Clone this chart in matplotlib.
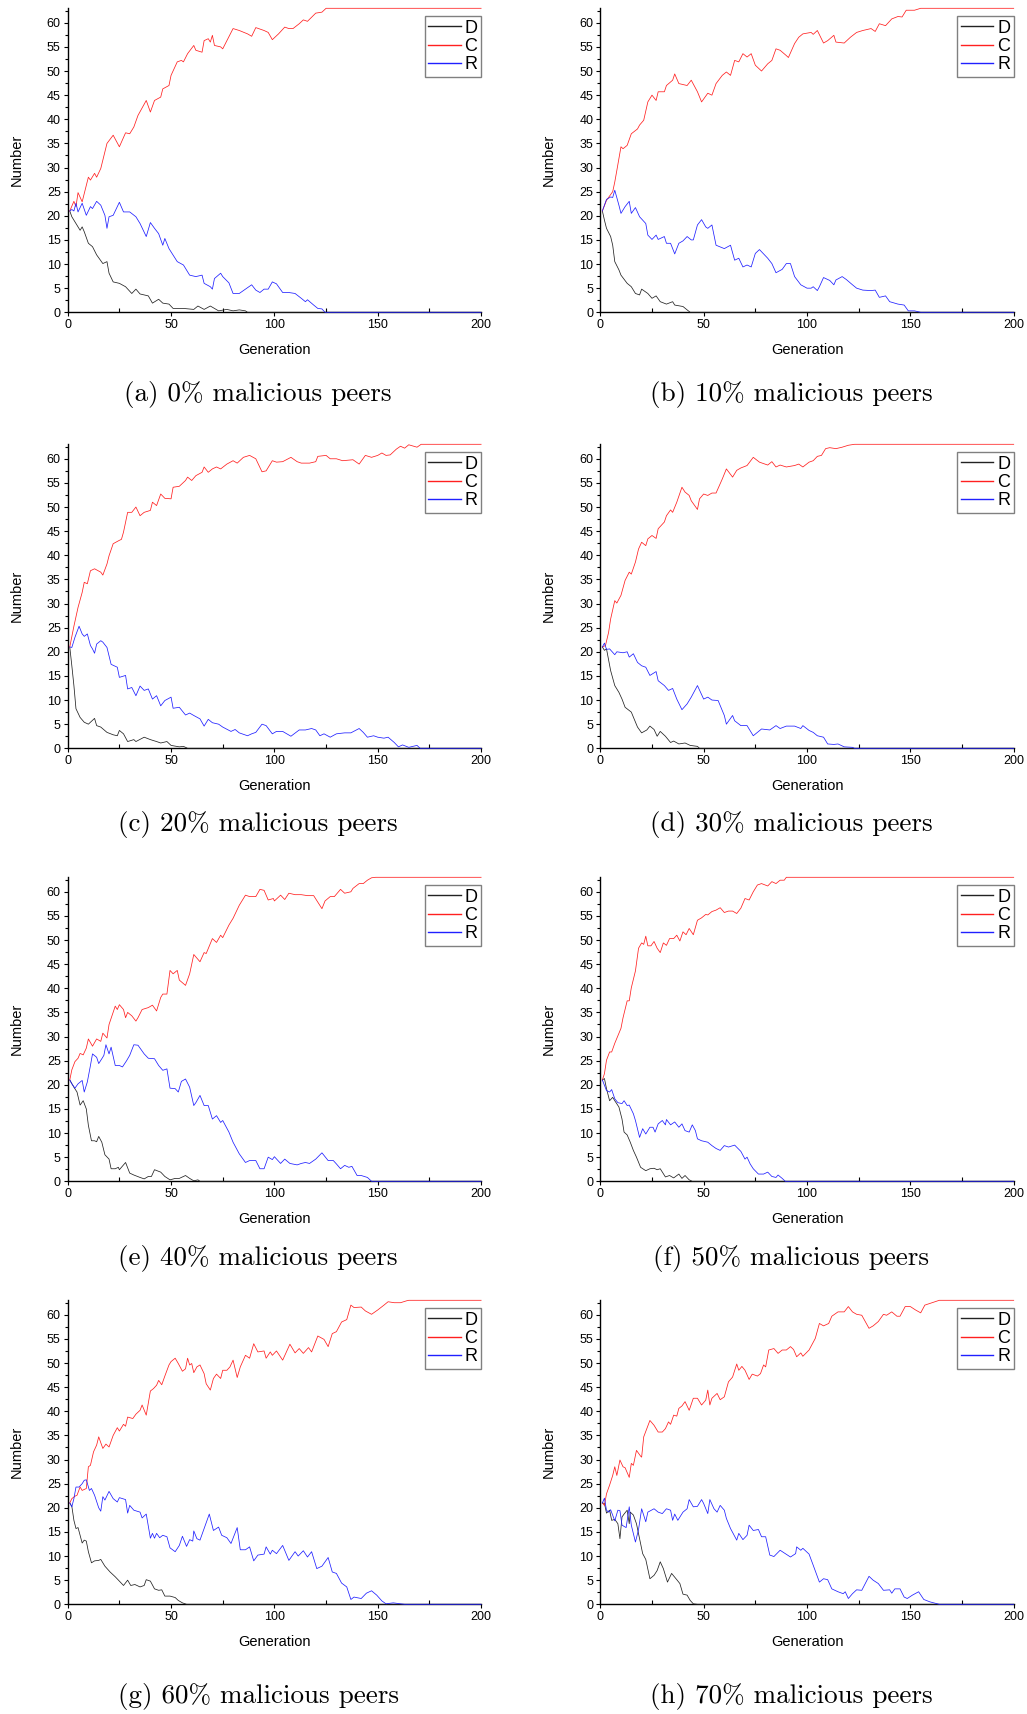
import matplotlib
matplotlib.use("Agg")
import matplotlib.pyplot as plt
from matplotlib.ticker import MultipleLocator
import numpy as np

plt.rcParams["font.family"] = ["Liberation Sans", "DejaVu Sans"]

# (generation, number), one list per strategy and panel
a_D = [(1,21),(2,19.8),(4,18.4),(6,17),(7,17.7),(8,16.7),(10,14.3),(12,13.6),(14,11.9),(17,10.1),(19,10.5),(20,8.1),
       (22,6.3),(25,6),(28,5.3),(31,3.9),(33,4.8),(35,3.8),(39,3.4),(41,1.9),(44,2.7),(46,1.9),(49,1.7),(51,0.8),
       (56,0.8),(61,0.6),(63,1.3),(66,0.6),(69,1.3),(73,0.3),(77,0.6),(80,0.3),(83,0.5),(86,0.3),(87,0),(200,0)]
a_C = [(1,21),(3,23),(4,21.9),(5,24.8),(7,22.9),(10,28),(11,27.4),(13,28.8),(14,28),(16,29.8),(19,35),(22,36.7),
       (25,34.3),(28,37.2),(30,37),(32,38.4),(34,40.8),(38,43.9),(40,41.5),(42,43.9),(45,44.6),(46,46.3),(49,47),
       (50,49.1),(53,51.9),(55,52.2),(56,51.9),(58,53.6),(61,55.3),(62,54.3),(65,53.9),(66,56.3),(68,56.7),(69,56),
       (70,57.4),(71,55.3),(74,55),(75,54.6),(80,58.8),(83,58.4),(87,57.7),(89,57.2),(91,59),(95,58.4),(97,58),
       (99,56.5),(100,56.9),(102,57.7),(105,59.1),(107,58.8),(109,58.8),(112,59.8),(114,60.6),(116,60.3),(120,62),
       (123,62.2),(125,63),(200,63)]
a_R = [(1,21),(2,21.3),(3,21),(4,22.6),(5,20.8),(7,22.6),(9,20.1),(11,21.9),(12,21.5),(14,23),(16,22.2),(18,20.1),
       (19,17.4),(20,19.8),(22,20.1),(25,22.8),(27,20.8),(30,20.8),(33,19.8),(35,18.4),(38,15.7),(40,18.6),(42,17.4),
       (44,16.3),(46,13.9),(47,15.3),(49,13.2),(53,10.5),(56,9.8),(59,7.7),(62,7.4),(65,7.7),(66,6),(69,5.3),(70,4.8),
       (71,7),(74,8.1),(75,7.4),(78,6.1),(80,3.9),(83,3.9),(86,4.8),(89,5.7),(91,4.6),(93,4.1),(95,4.8),(97,4.8),
       (99,6.3),(101,5.9),(104,4.1),(107,4.1),(110,3.9),(113,2.9),(115,2.2),(116,2.6),(119,1.5),(121,0.8),(123,0.7),
       (124.5,0),(200,0)]

b_D = [(1,21),(2,19.1),(3,17.4),(5,15.7),(6,13.9),(7,10.5),(9,8.8),(10,7.7),(13,6),(15,5.3),(17,3.9),(19,3.6),
       (20,4.8),(23,3.9),(25,2.9),(27,3.4),(29,2.2),(32,1.7),(35,2.2),(36,1.5),(40,1.2),(42,0.5),(43.5,0),(200,0)]
b_C = [(1,21),(3,23.2),(6,25),(7,27),(8,29.4),(10,34.3),(11,33.9),(13,34.6),(15,37),(18,38),(19,38.8),(21,39.8),
       (23,43.6),(25,45),(27,43.9),(28,45.7),(31,45.7),(32,47),(35,48.1),(36,49.4),(38,47.4),(42,47),(44,48.1),
       (47,45.7),(49,43.6),(52,45.4),(54,45),(56,47.4),(59,49.1),(61,49.8),(63,49.1),(65,52.2),(67,51.9),(69,53.6),
       (71,52.9),(73,53.6),(75,51.2),(78,50),(81,51.5),(83,52.2),(85,54.6),(87,54.3),(90,53.2),(91,52.8),(94,55.7),
       (96,57),(98,57.7),(102,58),(103,57.6),(105,58.4),(108,55.8),(110,56.3),(113,57.4),(114,56),(118,55.8),
       (121,57),(124,58),(127,58.4),(131,58.8),(133,58.2),(135,59.8),(138,59.4),(141,60.8),(144,61.3),(146,61.2),
       (148,62.6),(152,62.6),(155,63),(200,63)]
b_R = [(1,21),(3,23.4),(5,23.9),(6,23.8),(7,25.3),(9,22.2),(10,20.5),(12,21.9),(14,23),(15,20.5),(17,21.7),
       (19,19.8),(22,18.4),(23,16),(25,15.1),(27,16),(28,15.1),(31,15.7),(32,14.3),(34,14.3),(36,12.1),(38,14.3),
       (40,14.8),(42,15.7),(44,15),(45,15),(47,18.1),(49,19.2),(51,17.7),(52,17.4),(54,18.1),(56,13.9),(60,13.2),
       (63,13.9),(65,10.8),(67,11.2),(69,9.4),(71,9.8),(73,9.4),(75,12.2),(77,13),(81,11.2),(83,10.1),(85,8.2),
       (88,8.9),(90,10.1),(92,10.1),(94,7.4),(97,5.7),(100,5),(102,5),(103,5.3),(105,4.5),(106,5.3),(108,7.2),
       (111,6.6),(113,5.7),(114,6.7),(117,7.4),(119,6.8),(122,5.7),(124,5),(127,4.6),(131,4.5),(133,4.6),(135,3.1),
       (138,3.4),(140,2.2),(144,1.7),(147,1.5),(149,0.3),(152,0.3),(155,0),(200,0)]

c_D = [(1,21),(2,17.1),(3,13),(4,8.2),(6,6.4),(8,5.4),(10,5),(13,6.2),(14,4.7),(16,4.4),(19,3.3),(22,2.8),(24,2.6),
       (25,3.7),(27,3),(29,1.4),(32,1.8),(33,1.4),(37,2.3),(40,1.8),(43,1.4),(45,1.1),(48,1.4),(50,0.6),(54,0.3),
       (56,0.4),(58,0),(200,0)]
c_C = [(1,21),(3,25.3),(5,29.2),(7,32.3),(8,34.4),(9.5,34.1),(11,36.8),(13,37.2),(16,36.5),(17,35.9),(19,38.2),
       (20,39.9),(22,42.4),(25,43.1),(26,43.3),(27,44.8),(29,48.9),(31,48.9),(33,50),(35,48.2),(37,48.9),(40,49.3),
       (41,51),(43,50.3),(45,52.7),(47,51.8),(50,51.7),(51,54.1),(54,54.3),(57,55.5),(58,56.2),(60,55.5),(62,56.5),
       (65,57.2),(66,58.3),(68,57.2),(70,57.9),(72,58.3),(74,57.9),(77,58.9),(80,59.6),(82,59.1),(85,60.3),
       (88,60.7),(91,60),(94,57.3),(96,57.5),(99,59.6),(101,59.3),(104,59.4),(108,60.3),(111,59.4),(113,59.1),
       (117,59.1),(120,59.4),(121,60.5),(125,60.7),(127,60),(130,60),(133,59.6),(138,59.8),(141,58.9),(144,60.7),
       (147,60.3),(150,60.7),(152,61.2),(154,60.7),(156,60.8),(159,62),(161,62.6),(163,62.2),(165,62.9),
       (169,62.4),(171,63),(200,63)]
c_R = [(1,21),(2,20.9),(3.5,23),(5.5,25.3),(7,23.7),(8,23.2),(9.5,23.7),(11,21.3),(12,20.6),(13,19.7),(14,21.6),
       (16,22.3),(17,22),(19,20.9),(21,17.4),(24,16.8),(25,14.7),(28,15.1),(29,12.3),(31,12.6),(33,10.9),(35,12.9),
       (37,12),(39,12.3),(41,10.2),(43,10.9),(45,8.8),(47,9.9),(50,10.6),(51,8.3),(54,8.5),(57,6.9),(59,7.3),
       (61,6.8),(64,6.1),(66,4.6),(68,6),(70,5.3),(73,5),(75,4.4),(79,3.5),(81,3.9),(83,3.2),(87,2.6),(89,3),(91,3.3),
       (94,5),(96,4.7),(99,3),(101,3.5),(104,3.5),(108,2.5),(112,3.8),(115,3.8),(118,4.1),(120,3.8),(122,2.6),
       (124,3),(127,2.3),(130,3),(134,3.2),(137,3.2),(141,4.1),(143,3.3),(145,2.3),(148,2.6),(150,2.3),(153,2.1),
       (155,2.3),(158,1.2),(160,0.3),(162,0.7),(165,0.2),(169,0.6),(170.5,0),(200,0)]

d_D = [(1,21),(2,20.3),(3,20.6),(5,16.1),(7,13),(9,11.6),(10.5,10.2),(12,8.5),(15,7.5),(18,4.4),(20,3.2),
       (22.5,3.8),(24,4.6),(26,3.9),(27.5,2.5),(29,3.5),(31.5,2.5),(34,1.2),(35.5,1.5),(38,0.9),(41,1.1),(43.5,0.6),
       (47,0.4),(48,0),(200,0)]
d_C = [(1,21),(2.5,21.3),(4,24),(5,26.8),(7,30.6),(8,30.1),(10,31.7),(12,34.8),(14,36.5),(15,36.1),(17,38.6),
       (18.5,41.3),(20,42.7),(22,42),(23,43.4),(25,44.1),(27,43.5),(28,45.5),(31,46.9),(32,48.2),(34,49.4),(35,48.9),
       (37,51),(39.5,54.1),(41,53.1),(43,52.4),(44,51.3),(47,49.5),(48,51.7),(50,52.7),(52,52.4),(54,52.9),
       (56,52.9),(59,55.8),(61,57.9),(64,56.2),(66,57.6),(68,58.1),(71,58.6),(74,60.3),(77,59.3),(81,58.7),
       (83,59.4),(85,58.3),(87,58.7),(90,58.3),(94,58.6),(96,58.9),(98,58.3),(101,59.3),(103,59.6),(105,60.5),
       (107,60.7),(109,62.1),(111,62.3),(114,62.1),(117,62.4),(120,62.8),(123,63),(200,63)]
d_R = [(1,21),(2,21.8),(3,20.5),(4.5,20.6),(7,19.4),(8,20),(11,19.8),(13,20),(14,18.9),(16,19.6),(18,17.8),
       (20,17.1),(22,16.8),(24,15.1),(27,15.9),(28,14),(31,13),(33,12),(35,12.4),(37,10.2),(39.5,8),(42,9.2),
       (44,10.6),(47,13),(50,10.2),(52,10.6),(54,10),(57,9.9),(60,6.8),(61,5),(64,6.8),(65,5.7),(68,4.7),(71,4.7),
       (74,2.6),(78,4),(82,3.8),(85,4.7),(87,4.1),(90,4.6),(94,4.6),(97,4.1),(98,4.7),(101,3.7),(103,3.3),(105,2.6),
       (108,2.3),(110,0.9),(113,0.8),(115,0.9),(118,0.3),(122,0.2),(123,0),(200,0)]

e_D = [(1,21),(3,19.5),(4.5,18.5),(6,15.8),(7.5,16.7),(9,15),(10,11.6),(11.5,8.4),(13,8.4),(14,8.2),(15,9.3),
       (16.5,8.1),(18,5.5),(20,4.6),(21,2.6),(23,2.6),(24.5,2.9),(25,2.4),(28,3.9),(30,1.7),(32,1.3),(35,0.8),
       (37,0.5),(39,1),(40.5,1),(42,2.4),(45,1.9),(47,1),(49.5,0.3),(52,0.6),(54,0.6),(57,1.2),(59,0.6),(61,0.1),
       (63,0.3),(64,0),(200,0)]
e_C = [(1,21),(2,23.1),(3.5,24.8),(5,25.5),(6,26.5),(7.5,26.2),(9,27.6),(10,29.5),(12,28),(14,29.5),(16,29),
       (17,30.7),(19,29.7),(20,32.5),(23,36.3),(24,35.6),(25,36.6),(27,35.6),(28,33.9),(29,35),(31,34.3),(33,33.2),
       (34,33.9),(36,35.6),(39,36),(41,36.5),(43,35.3),(45,38.1),(46,38.8),(48,38.8),(49.5,43.7),(51,43),(53,43.7),
       (54,41.7),(57,40.6),(59,43),(61,47),(62,46.5),(64,45.5),(66,47.4),(67,47.2),(70,50.3),(72,49.5),(74,51),
       (75,50.5),(78,53.1),(80,54.5),(83,57.2),(86,59.3),(88,59),(91,59),(93,60.5),(95,60.3),(97,58.3),(99.5,58.6),
       (100,58.1),(103,59.3),(105,58.4),(107,59.7),(110,59.4),(113,59.4),(116,59.2),(119,59.2),(123,56.5),
       (124.5,58.1),(127,59),(129,59),(132,60.5),(134,59.7),(137,60),(138,60.7),(141,61.7),(143,61.7),(145,62.4),
       (147,62.9),(149,63),(200,63)]
e_R = [(1,21),(2,20.2),(3.5,19.3),(5,20.2),(7,20.9),(8,18.5),(9.5,20.6),(11,24),(12,26.4),(14,25.7),(15,24.4),
       (16.5,25.4),(17.5,26.1),(18.5,28.3),(20,26.4),(21,27.8),(23,24),(25,24),(26.5,23.7),(28.5,25),(30,26.1),
       (32,28.3),(34,28.2),(37,26.4),(39,25.5),(42,25.4),(44,24),(46,23),(48,23.3),(49.5,19.3),(52,19.2),
       (53.5,18.5),(55,20.7),(57,21.2),(59,19.5),(61,15.7),(62,16.3),(64,17.8),(66,15.7),(68,15.7),(70,12.9),
       (72,13.6),(74,12.2),(75,12.6),(78,10.2),(80,8.1),(83,5.7),(86,3.9),(88,4.3),(91,4.3),(93,2.6),(95,2.6),
       (97,5),(99,4.5),(100,5.1),(103,3.7),(105,4.6),(107.5,3.7),(111,3.4),(113,3.7),(115,3.9),(117,3.7),(120,4.6),
       (123,5.9),(126,4.3),(128.5,4.3),(130,3.6),(132,2.6),(134,3.3),(136,2.9),(137.5,3.1),(140,1.2),(142,1.2),
       (145,0.8),(147,0),(200,0)]

f_D = [(1,21),(2,21.3),(3,19.2),(4.5,16.7),(6,17.4),(7,16.7),(9,15.4),(10.5,12.9),(11.5,10.2),(13,9.6),(14.5,8.1),
       (16,6.4),(17.5,5),(19.5,2.9),(22,2.2),(24,2.6),(26,2.7),(27.5,2.4),(29,2.6),(31.5,0.9),(33.5,1.2),(35.5,0.7),
       (38,1.5),(39.5,0.6),(41,1.2),(43,0.3),(44.5,0),(200,0)]
f_C = [(1,21),(2,22.3),(3,25.1),(4.5,26.8),(5.5,26.8),(7,28.6),(10,31.7),(11,33.9),(13,37.4),(14,37.4),(15,40.1),
       (17,43.6),(18.5,48.3),(20,49.4),(21,49.1),(22,50.8),(23,48.8),(24.5,48.8),(26,49.7),(27.5,48.3),(29,47.4),
       (30.5,49.4),(32,48.9),(33.5,50.3),(35.5,50.3),(37,51),(38.5,49.8),(40,51.7),(41.5,51.1),(43,52.4),(45,51.1),
       (47,54.1),(49,54.6),(51,55.3),(52,55.2),(54,55.9),(56,56.2),(58,56.7),(60,55.7),(62,56),(64,56),(66,55.5),
       (68,56.6),(70,58.6),(72,58.3),(74,60),(76,61.4),(78,61.7),(81,61.2),(83,62.1),(85,61.7),(87,62.4),(89,62.4),
       (90,63),(200,63)]
f_R = [(1,21),(2,19.9),(3,18.8),(4.5,18.5),(5.5,19),(7,17.1),(8.5,16.3),(10.5,16.1),(11.5,16.7),(13,15.7),(14,15.8),
       (16,14),(17,12.6),(19,9.1),(20.5,10.9),(22,9.8),(24,11.2),(25.5,11.2),(26.5,10.2),(28,11.9),(30,12.6),
       (31.5,11.7),(32,12.8),(34,11.7),(36,12.3),(38,11.2),(39.5,11.9),(41,10.5),(43,10.2),(44.5,11.7),(46,10.5),
       (47,8.8),(49,8.4),(52,8.1),(54,7.4),(56,6.8),(58,6.4),(60,7.4),(62,7.1),(65,7.5),(68,6.2),(70,4.6),(71,5),
       (72.5,3.6),(74,2.6),(76.5,1.5),(79,1.5),(81,1.9),(83,1),(85,0.8),(86,1.3),(88,0.6),(89.5,0),(200,0)]

g_D = [(1,21),(2,20.3),(3,17.4),(4,15.7),(5,15.9),(7,12.7),(8,13.3),(9,13.1),(10,10.9),(11.5,8.6),(13,9),(15,9.1),
       (16,9.3),(18,7.9),(20.5,6.7),(23,5.7),(25,4.8),(27,3.9),(29,5),(30.5,3.9),(32.5,4.1),(35,3.6),(37,3.9),
       (38,5.1),(40,4.8),(42,3.2),(44,2.9),(45.5,3),(47,1.7),(49.5,1.7),(52,1.4),(53.5,0.8),(55.5,0.3),(57.5,0),
       (200,0)]
g_C = [(1,21),(2,21.9),(3.5,22.4),(4.5,22.6),(6,24.3),(7,23.6),(9,24),(10,28.5),(11,28.8),(12.5,31.6),(14,33),
       (15,34.7),(17,32.3),(18.5,33.2),(20,32.6),(22,35),(24,36.6),(25,35.9),(27,37.3),(28,36.9),(29,38.8),
       (31.5,38.5),(33,39.4),(35,40.2),(36,41.3),(38,39.2),(40,44.2),(41.5,44.7),(43,45.4),(44,46.4),(45.5,45.5),
       (47,47.3),(49,49.6),(50,50.3),(52,51),(53.5,49.9),(55.5,48.3),(57,48.8),(58,51),(59,49.6),(60,49.9),(61,48),
       (62.5,49.2),(64,49.6),(66,47.8),(67,45.7),(69,44.4),(70.5,46.8),(72,47.7),(74,46.8),(75,48.5),(77,48.5),
       (78.5,49.2),(80,50.6),(82,47),(83.5,49.2),(86,51.6),(88,51),(90,54),(92,52.3),(95,52.5),(96,51),(98,52.3),
       (99,51.6),(101,52.5),(104,50.6),(107.5,53.9),(110,52.1),(112,53),(114,52),(116.5,53.2),(118,52.3),(121,55.6),
       (124,54.9),(126,53.4),(128,56.1),(130,56.5),(132.5,58.5),(135,59),(137,62),(138.5,61.5),(142,61.6),
       (144,60.8),(147,60.1),(150,61),(153,62),(155,62.7),(158,62.5),(161,62.5),(164,62.9),(165,63),(200,63)]
g_R = [(1,21),(2,20.2),(3,21.9),(4,24.3),(5.5,24.3),(7,25),(8,25.7),(9,25.8),(10.5,23.6),(11.5,24),(13,22.6),
       (15,20),(16,19.3),(17,22.3),(18,21.6),(20,23.4),(22,21.9),(24,21.2),(25,22.1),(28,21.7),(29,18.9),(30,20.5),
       (32,19.5),(35,19.1),(36,17.9),(38,18.7),(40,13.7),(41,14.7),(42,13.7),(43,14.7),(44.5,13.8),(46,14.3),
       (48,14),(49.5,11.7),(52,10.9),(54,12.2),(55.5,14.1),(57.5,12),(59,13.4),(60.5,13.1),(61,15.2),(62.5,13.6),
       (64,13.3),(66,15.7),(68.5,18.7),(70.5,15.3),(73,16),(74.5,14.3),(77,13.8),(79,12.6),(82,15.9),(83.5,11.3),
       (86,11.3),(88,11.9),(90,9),(92,10.2),(95,10.4),(96,11.9),(98,10.4),(99,11.2),(101,10.5),(104,12.2),
       (107,9.1),(110,10.9),(111.5,10),(114,11.1),(116,9.8),(118,10.9),(120.5,7.4),(123,7.9),(126,9.7),(128,6.7),
       (130,6.4),(132.5,4.4),(135,3.6),(137,1),(138.5,1.5),(142,1.2),(144.5,2.3),(147,2.8),(149.5,1.9),(152,0.7),
       (154,0.1),(157.5,0.3),(161,0.1),(163,0),(200,0)]

h_D = [(1,21),(2,20.9),(3,18.9),(4.5,19.5),(5.5,17.4),(7,17.6),(8.5,16.7),(9.5,13.6),(10.5,18.1),(11.5,18.7),
       (13,19.5),(14,16.7),(14.5,19.1),(16,18.5),(17.5,16.7),(19,13.6),(20.5,10.5),(22,9.3),(24,5.3),(26,6),
       (27.5,7),(29,8.8),(30.5,7.4),(32.5,4.6),(34.5,6.4),(37,5.1),(38.5,4.3),(40,2.1),(42,1.9),(43.5,0.8),
       (45,0.1),(47,0),(200,0)]
h_C = [(1,21),(2,20.5),(3,22.9),(4.5,24.7),(6,26.7),(7,28.5),(8,26.7),(9.5,29.9),(11,28.5),(12,28.3),(14,26.3),
       (15,29.2),(16,28.8),(17.5,31.9),(19.5,30.7),(20,30.5),(21,34.7),(22.5,36.4),(24,38.1),(26,37.1),(28,35.7),
       (30,35.7),(31.5,36.4),(33,37.8),(34,37.3),(35.5,39.2),(37,39),(38,40.6),(39.5,41.1),(41,42),(43,40.2),
       (45,42.7),(47,42.7),(49,41.3),(51,42.3),(52,44.4),(53,41.3),(54,42.7),(56.5,43.7),(58,42.4),(60,43),
       (62,46.1),(64,47.1),(66,49.8),(67,48.5),(68.5,49.3),(70,48.5),(72,46.6),(73.5,47.7),(76,47.3),(77.5,47.8),
       (79,49.6),(80,49.2),(81.5,52.7),(84,53),(86,52),(88,52.7),(90,52.7),(92,53.4),(93.5,52.8),(95,51.3),
       (97,52.1),(98,51.4),(101,52.7),(104,55.1),(106,58.2),(108,57.7),(110.5,58.2),(112,59.7),(115,60.6),
       (118,60.6),(120,61.7),(122,60.6),(124,60.1),(126.5,59.9),(130,57.2),(132,57.7),(134.5,58.6),(137,60.1),
       (138.5,59.9),(141,60.6),(143.5,59.7),(145,59.7),(147.5,61.7),(150,61.7),(152.5,61),(155,60.4),(157,62),
       (160.5,62.5),(164,63),(200,63)]
h_R = [(1,21),(2,22),(3,19.5),(4,19.1),(5,19.6),(7,17.3),(8.5,19.5),(9.5,19.4),(10.5,16.4),(12.5,15.9),(14,20.2),
       (15,16.4),(17,12.9),(18.5,15.5),(20,19.8),(22,17.1),(23,19.1),(26,19.8),(28,19.1),(30,18.8),(32,19.8),
       (34,19.5),(35,17.4),(36,18.7),(37.5,17.4),(40,19.1),(42,19.8),(43,21.7),(45,20.2),(47,20.3),(49,21.7),
       (50,20.9),(52,18.8),(53,21.7),(55,19.8),(56.5,19.1),(58,20.5),(60,19.5),(61,17.8),(63,15.7),(66,13.3),
       (67,14.7),(69,13.4),(71,14.3),(72,16.4),(74,15.3),(76.5,15.5),(78,14),(80,14),(82,10.2),(84,9.9),(87,11.2),
       (89.5,10.5),(92,9.8),(94.5,10.5),(95,11.9),(97,11.2),(98,11.6),(101,10.4),(103,8.1),(106,4.6),(108,5.3),
       (110,5.1),(112,3.2),(115,2.6),(117.5,2.2),(118.5,2.6),(120,1.2),(122,2.2),(124,3),(126.5,2.9),(130,5.8),
       (132,5),(134.5,4.3),(137,2.9),(140,3),(141,2.3),(142.5,3.2),(145,3.2),(147,1.5),(148.5,1.2),(151,1.9),
       (154,2.6),(156.5,1),(159.5,0.5),(164,0),(200,0)]

captions = ["(a) 0% malicious peers", "(b) 10% malicious peers", "(c) 20% malicious peers",
            "(d) 30% malicious peers", "(e) 40% malicious peers", "(f) 50% malicious peers",
            "(g) 60% malicious peers", "(h) 70% malicious peers"]
panels = [(a_D, a_C, a_R), (b_D, b_C, b_R), (c_D, c_C, c_R), (d_D, d_C, d_R),
          (e_D, e_C, e_R), (f_D, f_C, f_R), (g_D, g_C, g_R), (h_D, h_C, h_R)]

W, H = 1027, 1714
fig = plt.figure(figsize=(W / 100, H / 100), dpi=100)

col_left = [67.7, 600.3]
ax_w = 413.4
row_top = [8.3, 444.3, 877.3, 1300.3]
ax_h = 304
cap_y = [395, 825, 1258, 1697]
cap_x = [258, 791]

for i, (D, C, R) in enumerate(panels):
    r, c = divmod(i, 2)
    ax = fig.add_axes([col_left[c] / W, 1 - (row_top[r] + ax_h) / H, ax_w / W, ax_h / H])
    for data, col, lab in [(D, "#222222", "D"), (C, "#ff2020", "C"), (R, "#2020ff", "R")]:
        arr = np.array(data)
        ax.plot(arr[:, 0], arr[:, 1], color=col, lw=0.55, label=lab, clip_on=False, zorder=3)
    ax.set_xlim(0, 200)
    ax.set_ylim(0, 63)
    ax.xaxis.set_major_locator(MultipleLocator(50))
    ax.xaxis.set_minor_locator(MultipleLocator(25))
    ax.yaxis.set_major_locator(MultipleLocator(5))
    ax.yaxis.set_minor_locator(MultipleLocator(2.5))
    ax.spines["top"].set_visible(False)
    ax.spines["right"].set_visible(False)
    ax.spines["left"].set_linewidth(1.0)
    ax.spines["bottom"].set_linewidth(1.0)
    ax.tick_params(which="major", length=3, width=0.8, labelsize=9, pad=2)
    ax.tick_params(which="minor", length=2.2, width=0.8)
    ax.tick_params(axis="x", which="minor", direction="in", length=3)
    ax.set_xlabel("Generation", fontsize=10.5)
    ax.set_ylabel("Number", fontsize=10.5)
    ax.xaxis.set_label_coords(0.5, -0.1)
    ax.yaxis.set_label_coords(-0.107, 0.5)
    leg = ax.legend(loc="upper right", bbox_to_anchor=(1.0, 0.975), fontsize=13, frameon=True,
                    fancybox=False, edgecolor="#808080", framealpha=1, borderpad=0.2,
                    labelspacing=0.08, handlelength=1.8, handletextpad=0.2, borderaxespad=0)
    leg.get_frame().set_linewidth(1.0)
    for ln in leg.get_lines():
        ln.set_linewidth(1.0)
    fig.text(cap_x[c] / W, 1 - cap_y[i // 2] / H, captions[i], ha="center", va="center",
             fontsize=19.5, family="cmr10")

fig.savefig("out.png", dpi=100)
